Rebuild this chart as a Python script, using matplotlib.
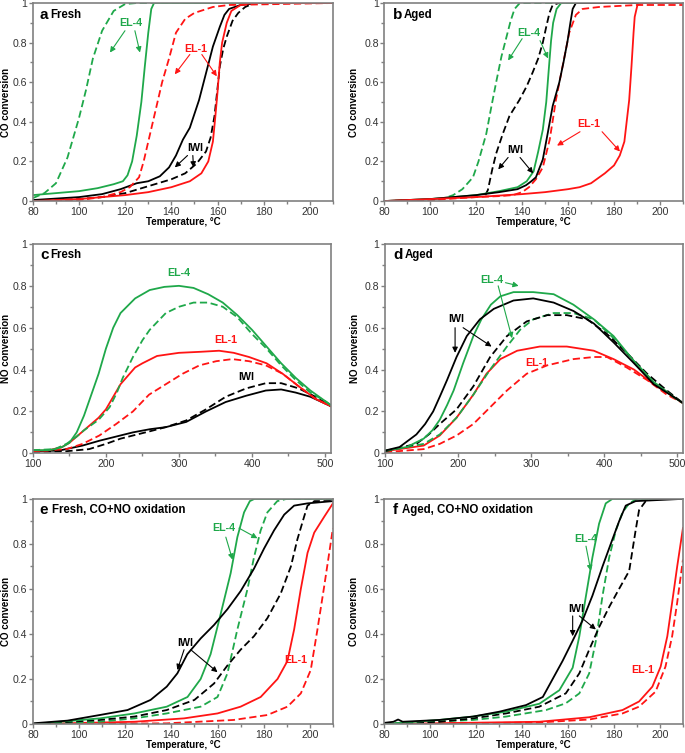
import matplotlib
matplotlib.use('Agg')
import matplotlib.pyplot as plt
from matplotlib.ticker import MultipleLocator
import numpy as np

plt.rcParams['font.family'] = ['Liberation Sans', 'DejaVu Sans']

# ---- panel a: CO oxidation, fresh ----
a_el4_sol = [(80,0.03),(90,0.04),(100,0.05),(108,0.065),(115,0.085),(119,0.1),(121,0.13),(123,0.2),(125,0.33),(127,0.5),(128.5,0.68),(130,0.85),(131.3,0.97),(132.5,1.0),(210,1.0)]
a_el4_das = [(80,0.015),(85,0.04),(90,0.09),(95,0.22),(100,0.42),(103,0.56),(106,0.72),(110,0.86),(115,0.96),(120,0.995),(125,1.0),(210,1.0)]
a_el1_sol = [(80,0.0),(100,0.01),(120,0.03),(130,0.045),(140,0.07),(148,0.1),(153,0.14),(156,0.2),(158,0.3),(159,0.42),(160,0.55),(161,0.7),(162,0.8),(164,0.9),(166,0.96),(170,0.99),(175,1.0),(210,1.0)]
a_el1_das = [(80,0.0),(100,0.005),(110,0.02),(118,0.045),(122,0.07),(126,0.12),(128,0.2),(130,0.3),(133,0.45),(136,0.6),(139,0.72),(142,0.85),(146,0.92),(150,0.95),(158,0.98),(165,0.99),(210,1.0)]
a_iwi_sol = [(80,0.005),(100,0.02),(110,0.035),(118,0.06),(125,0.09),(130,0.1),(135,0.125),(139,0.17),(142,0.23),(145,0.31),(148,0.37),(150,0.44),(152,0.51),(154,0.6),(156,0.69),(158,0.78),(161,0.88),(163,0.94),(165,0.97),(170,0.99),(178,1.0),(210,1.0)]
a_iwi_das = [(80,0.0),(100,0.01),(110,0.02),(120,0.04),(130,0.075),(140,0.11),(146,0.14),(151,0.19),(155,0.25),(157,0.32),(158.7,0.43),(160,0.57),(161,0.68),(162.5,0.77),(164,0.83),(166.5,0.91),(169,0.95),(172,0.98),(176,1.0),(210,1.0)]

# ---- panel b: CO oxidation, aged ----
b_el4_sol = [(80,0.0),(100,0.01),(120,0.03),(130,0.05),(138,0.07),(142,0.1),(145,0.15),(147,0.25),(149,0.36),(150.5,0.5),(151.5,0.65),(152.6,0.81),(153.5,0.9),(155,0.97),(157,1.0),(210,1.0)]
b_el4_das = [(80,0.0),(100,0.005),(105,0.01),(110,0.03),(114,0.06),(118.6,0.12),(121,0.2),(124.4,0.34),(126.5,0.47),(128.7,0.6),(131,0.73),(133,0.82),(135,0.91),(136.7,0.97),(139,1.0),(210,1.0)]
b_el1_sol = [(80,0.0),(100,0.01),(120,0.02),(140,0.035),(150,0.045),(160,0.06),(165,0.07),(170,0.09),(176,0.14),(180,0.18),(182.5,0.23),(184.5,0.3),(185.5,0.4),(186.6,0.51),(187.6,0.68),(188.5,0.85),(189,0.93),(190.2,0.99),(192,1.0),(210,1.0)]
b_el1_das = [(80,0.0),(100,0.005),(120,0.02),(130,0.025),(136,0.03),(140,0.045),(143,0.07),(146,0.11),(149,0.17),(150.5,0.24),(152,0.31),(153.5,0.42),(154.7,0.51),(157.6,0.68),(160.5,0.85),(163.4,0.94),(166.3,0.97),(173.5,0.98),(190,0.99),(210,0.99)]
b_iwi_sol = [(80,0.0),(100,0.01),(120,0.03),(130,0.045),(138,0.06),(141.7,0.08),(144,0.1),(146,0.12),(149,0.21),(151.1,0.34),(153.3,0.48),(156.2,0.6),(158,0.7),(159.8,0.81),(161,0.9),(162,0.97),(163.4,1.0),(210,1.0)]
b_iwi_das = [(124,0.03),(125.1,0.056),(127,0.16),(128.7,0.24),(131.6,0.34),(134.5,0.43),(138.8,0.51),(142,0.58),(144.6,0.65),(147,0.72),(149,0.8),(150.5,0.88),(151.9,0.95),(153.3,0.99),(156,1.0),(210,1.0)]

# ---- panel c: NO oxidation, fresh ----
c_el4_sol = [(100,0.015),(120,0.015),(130,0.02),(140,0.03),(150,0.05),(160,0.1),(170,0.18),(180,0.28),(190,0.38),(200,0.5),(210,0.6),(220,0.67),(240,0.74),(260,0.78),(280,0.795),(300,0.8),(320,0.79),(340,0.76),(360,0.72),(380,0.66),(400,0.59),(420,0.51),(440,0.43),(460,0.36),(480,0.3),(500,0.25),(508,0.23)]
c_el4_das = [(100,0.015),(130,0.02),(146,0.045),(160,0.08),(170,0.11),(190,0.16),(205,0.22),(215,0.29),(223,0.36),(237,0.46),(250,0.54),(260,0.59),(282,0.67),(300,0.7),(320,0.72),(340,0.72),(360,0.7),(380,0.65),(400,0.57),(420,0.5),(440,0.42),(460,0.35),(480,0.29),(500,0.25),(508,0.23)]
c_el1_sol = [(100,0.013),(120,0.013),(140,0.03),(150,0.05),(160,0.08),(170,0.11),(180,0.14),(190,0.17),(200,0.21),(210,0.27),(220,0.33),(230,0.37),(240,0.41),(250,0.43),(270,0.465),(300,0.48),(330,0.485),(355,0.49),(375,0.48),(396,0.46),(420,0.43),(442,0.38),(464,0.32),(487,0.26),(508,0.225)]
c_el1_das = [(100,0.01),(146,0.02),(168,0.045),(191,0.085),(214,0.14),(237,0.2),(259,0.28),(282,0.33),(305,0.38),(328,0.42),(351,0.44),(373,0.45),(396,0.44),(419,0.42),(442,0.38),(464,0.32),(487,0.26),(508,0.225)]
c_iwi_sol = [(100,0.01),(136,0.013),(168,0.037),(191,0.06),(214,0.08),(237,0.1),(260,0.115),(282,0.125),(310,0.15),(337,0.2),(364,0.245),(392,0.275),(419,0.3),(440,0.305),(460,0.29),(480,0.27),(508,0.225)]
c_iwi_das = [(100,0.006),(146,0.01),(177,0.02),(200,0.045),(220,0.07),(237,0.085),(260,0.105),(282,0.125),(310,0.157),(337,0.21),(364,0.27),(392,0.31),(419,0.335),(440,0.335),(464,0.31),(487,0.27),(508,0.225)]

# ---- panel d: NO oxidation, aged ----
d_el4_sol = [(100,0.013),(130,0.03),(153,0.07),(165,0.11),(175,0.16),(185,0.23),(194,0.3),(207,0.43),(221,0.56),(232,0.64),(245,0.71),(258,0.75),(276,0.77),(303,0.77),(331,0.76),(358,0.71),(386,0.64),(413,0.56),(441,0.44),(468,0.34),(495,0.27),(508,0.24)]
d_el4_das = [(100,0.01),(153,0.045),(175,0.09),(198,0.17),(221,0.28),(244,0.4),(267,0.51),(285,0.59),(303,0.64),(331,0.67),(358,0.67),(386,0.64),(413,0.55),(441,0.44),(468,0.34),(495,0.27),(508,0.24)]
d_el1_sol = [(100,0.01),(153,0.037),(175,0.085),(198,0.17),(221,0.28),(239,0.38),(258,0.45),(281,0.49),(312,0.51),(349,0.51),(386,0.49),(413,0.45),(441,0.4),(468,0.33),(495,0.27),(508,0.24)]
d_el1_das = [(100,0.005),(153,0.02),(175,0.045),(198,0.085),(221,0.14),(244,0.22),(267,0.3),(294,0.38),(322,0.42),(358,0.45),(386,0.46),(404,0.46),(431,0.41),(459,0.35),(486,0.28),(508,0.24)]
d_iwi_sol = [(100,0.013),(120,0.03),(143,0.09),(155,0.14),(166,0.2),(175,0.27),(185,0.35),(198,0.46),(212,0.56),(230,0.64),(249,0.69),(276,0.73),(303,0.74),(331,0.72),(358,0.68),(386,0.62),(413,0.53),(441,0.43),(468,0.33),(495,0.27),(508,0.24)]
d_iwi_das = [(100,0.01),(143,0.045),(160,0.09),(175,0.14),(198,0.21),(221,0.32),(244,0.46),(267,0.56),(294,0.63),(322,0.66),(349,0.66),(377,0.64),(404,0.57),(431,0.48),(459,0.38),(486,0.3),(508,0.24)]

# ---- panel e: CO+NO oxidation, fresh ----
e_el4_sol = [(80,0.0),(109,0.025),(124,0.047),(138,0.077),(147,0.12),(152.7,0.2),(157,0.31),(161.4,0.49),(165.7,0.67),(168.6,0.83),(171.5,0.94),(174,0.99),(176,1.0),(210,1.0)]
e_el4_das = [(80,0.0),(109,0.01),(124,0.025),(138,0.047),(152.7,0.077),(160,0.12),(164.3,0.225),(168.6,0.42),(173,0.6),(175.8,0.74),(178.7,0.86),(181.6,0.94),(185.9,0.99),(190,1.0),(210,1.0)]
e_el1_sol = [(80,0.0),(124,0.01),(145.5,0.025),(160,0.047),(170,0.077),(178.7,0.12),(186,0.2),(190.3,0.28),(193.2,0.42),(196.1,0.6),(199,0.76),(201.9,0.85),(206.2,0.92),(210,0.98)]
e_el1_das = [(80,0.0),(138,0.003),(167,0.018),(181.6,0.04),(190.3,0.077),(196.1,0.136),(200.4,0.24),(203.3,0.42),(206.2,0.61),(208.4,0.76),(210,0.87)]
e_iwi_sol = [(80,0.003),(95,0.015),(109,0.04),(121,0.062),(131,0.107),(138,0.166),(142.6,0.225),(146.9,0.31),(152.7,0.38),(158.5,0.44),(164.3,0.51),(170,0.59),(175.8,0.69),(180.2,0.78),(184.5,0.86),(188.9,0.93),(193.2,0.97),(199,0.98),(210,0.99)]
e_iwi_das = [(80,0.0),(109,0.018),(124,0.033),(138,0.062),(150,0.107),(158.5,0.18),(164.3,0.26),(170,0.33),(175.8,0.39),(181.6,0.47),(187.4,0.58),(191.8,0.7),(194.6,0.82),(197.5,0.92),(199,0.97),(202,0.99),(210,0.99)]

# ---- panel f: CO+NO oxidation, aged ----
f_el4_sol = [(80,0.0),(104,0.018),(118.6,0.033),(133,0.055),(147.5,0.09),(156.2,0.15),(162,0.25),(164.9,0.39),(167.8,0.57),(170.6,0.74),(173.5,0.89),(176.4,0.98),(179.3,1.0),(210,1.0)]
f_el4_das = [(80,0.0),(118.6,0.018),(133,0.033),(150.4,0.062),(159,0.092),(164.9,0.136),(169.2,0.225),(172.1,0.37),(175,0.57),(177.9,0.74),(180.8,0.86),(183.7,0.94),(186.6,0.98),(190,1.0),(210,1.0)]
f_el1_sol = [(80,0.0),(147.5,0.01),(169.2,0.03),(183.7,0.062),(190.9,0.1),(196.7,0.166),(200.3,0.255),(203.2,0.39),(205.3,0.54),(207.5,0.7),(210,0.87)]
f_el1_das = [(80,0.0),(147.5,0.007),(169.2,0.02),(183.7,0.047),(190.9,0.077),(198.1,0.144),(202.4,0.255),(205.3,0.39),(207.5,0.54),(210,0.73)]
f_iwi_sol = [(80,0.005),(84,0.01),(86,0.02),(88,0.01),(104,0.018),(118.6,0.033),(130.2,0.055),(141.7,0.084),(149,0.12),(153.3,0.2),(157.6,0.28),(162,0.37),(166.3,0.46),(170.6,0.57),(175,0.7),(179.3,0.82),(182.2,0.9),(185.1,0.97),(189.4,0.99),(210,1.0)]
f_iwi_das = [(80,0.0),(104,0.01),(118.6,0.025),(133,0.047),(147.5,0.077),(159,0.136),(164.9,0.225),(169.2,0.33),(173.5,0.43),(177.9,0.52),(182.2,0.6),(186.6,0.68),(189.4,0.86),(190.9,0.95),(193.8,0.99),(198,1.0),(210,1.0)]

GREEN = '#1fa84a'
RED = '#ff1414'
BLACK = '#000000'
GRAY = '#808080'

fig = plt.figure(figsize=(6.85, 7.53), dpi=100)

def setup(ax, xlim, xmaj, xmin, ylab, xlab, ylx):
    ax.set_xlim(*xlim)
    ax.set_ylim(0, 1)
    ax.xaxis.set_major_locator(MultipleLocator(xmaj))
    ax.xaxis.set_minor_locator(MultipleLocator(xmin))
    ax.yaxis.set_major_locator(MultipleLocator(0.2))
    ax.yaxis.set_minor_locator(MultipleLocator(0.1))
    ax.yaxis.set_major_formatter(plt.FuncFormatter(lambda v, p: '%g' % round(v, 1)))
    for s in ax.spines.values():
        s.set_color(GRAY)
        s.set_linewidth(1.2)
    ax.tick_params(which='major', direction='out', length=3, width=1, color=GRAY,
                   labelsize=7.6, labelcolor='#333333', pad=1)
    ax.tick_params(which='minor', direction='out', length=2, width=1, color=GRAY)
    ax.set_ylabel(ylab, fontsize=7, fontweight='bold')
    ax.yaxis.set_label_coords(ylx, 0.5)
    if xlab:
        ax.set_xlabel(xlab, fontsize=7, fontweight='bold', labelpad=0.5)

def draw(ax, curves):
    for pts, col, ls in curves:
        t, v = zip(*pts)
        if ls == '--':
            ax.plot(t, v, color=col, lw=1.3, ls=(0, (4, 2)))
        else:
            ax.plot(t, v, color=col, lw=1.3)

def tag(ax, letter, text, x, y, x2):
    ax.text(x, y, letter, transform=ax.transAxes, fontsize=11, fontweight='bold', va='center')
    ax.text(x2, y, text, transform=ax.transAxes, fontsize=8.3, fontweight='bold', va='center')

def lab(ax, txt, col, pos, arrows):
    ax.text(pos[0], pos[1], txt, color=col, fontsize=7.7, fontweight='bold', ha='center', va='center')
    for (x0, y0, x1, y1) in arrows:
        ax.annotate('', xy=(x1, y1), xytext=(x0, y0),
                    arrowprops=dict(arrowstyle='-|>', color=col, lw=0.8, mutation_scale=8,
                                    shrinkA=0, shrinkB=0))

tlab = 'Temperature, °C'
axa = fig.add_axes([0.048, 0.733, 0.438, 0.263])
axb = fig.add_axes([0.561, 0.733, 0.436, 0.263])
axc = fig.add_axes([0.048, 0.398, 0.435, 0.278])
axd = fig.add_axes([0.562, 0.398, 0.435, 0.278])
axe = fig.add_axes([0.048, 0.0385, 0.438, 0.299])
axf = fig.add_axes([0.561, 0.0385, 0.436, 0.299])

setup(axa, (80, 210), 20, 10, 'CO conversion', tlab, -0.073)
setup(axb, (80, 210), 20, 10, 'CO conversion', tlab, -0.085)
setup(axc, (100, 508), 100, 50, 'NO conversion', None, -0.075)
setup(axd, (100, 508), 100, 50, 'NO conversion', None, -0.085)
setup(axe, (80, 210), 20, 10, 'CO conversion', tlab, -0.073)
setup(axf, (80, 210), 20, 10, 'CO conversion', tlab, -0.085)

draw(axa, [(a_el4_das, GREEN, '--'), (a_el4_sol, GREEN, '-'), (a_iwi_sol, BLACK, '-'),
           (a_iwi_das, BLACK, '--'), (a_el1_das, RED, '--'), (a_el1_sol, RED, '-')])
draw(axb, [(b_el4_das, GREEN, '--'), (b_iwi_das, BLACK, '--'), (b_el4_sol, GREEN, '-'),
           (b_el1_das, RED, '--'), (b_iwi_sol, BLACK, '-'), (b_el1_sol, RED, '-')])
draw(axc, [(c_iwi_sol, BLACK, '-'), (c_iwi_das, BLACK, '--'), (c_el1_das, RED, '--'),
           (c_el1_sol, RED, '-'), (c_el4_das, GREEN, '--'), (c_el4_sol, GREEN, '-')])
draw(axd, [(d_el1_das, RED, '--'), (d_el1_sol, RED, '-'), (d_el4_das, GREEN, '--'),
           (d_iwi_das, BLACK, '--'), (d_el4_sol, GREEN, '-'), (d_iwi_sol, BLACK, '-')])
draw(axe, [(e_el1_das, RED, '--'), (e_el1_sol, RED, '-'), (e_el4_das, GREEN, '--'),
           (e_iwi_das, BLACK, '--'), (e_el4_sol, GREEN, '-'), (e_iwi_sol, BLACK, '-')])
draw(axf, [(f_el1_das, RED, '--'), (f_el1_sol, RED, '-'), (f_el4_das, GREEN, '--'),
           (f_iwi_das, BLACK, '--'), (f_el4_sol, GREEN, '-'), (f_iwi_sol, BLACK, '-')])

tag(axa, 'a', 'Fresh', 0.022, 0.94, 0.057)
tag(axb, 'b', 'Aged', 0.028, 0.94, 0.066)
tag(axc, 'c', 'Fresh', 0.024, 0.947, 0.058)
tag(axd, 'd', 'Aged', 0.028, 0.947, 0.066)
tag(axe, 'e', 'Fresh, CO+NO oxidation', 0.023, 0.951, 0.063)
tag(axf, 'f', 'Aged, CO+NO oxidation', 0.027, 0.951, 0.06)

lab(axa, 'EL-4', GREEN, (122.5, 0.9), [(119.9, 0.86, 113.4, 0.75), (124.2, 0.86, 126.4, 0.75)])
lab(axa, 'EL-1', RED, (150.6, 0.77), [(148, 0.74, 141.5, 0.64), (153.2, 0.74, 159.7, 0.63)])
lab(axa, 'IWI', BLACK, (150.2, 0.27), [(147, 0.23, 141.5, 0.17), (149.3, 0.23, 149.6, 0.17)])

lab(axb, 'EL-4', GREEN, (143, 0.85), [(140, 0.82, 133.9, 0.71), (147.8, 0.81, 151.3, 0.72)])
lab(axb, 'EL-1', RED, (169.1, 0.39), [(165.2, 0.35, 155.2, 0.28), (174.8, 0.35, 182.6, 0.25)])
lab(axb, 'IWI', BLACK, (137, 0.26), [(133.9, 0.22, 129.6, 0.16), (139.1, 0.22, 144.8, 0.14)])

lab(axc, 'EL-4', GREEN, (300, 0.86), [])
lab(axc, 'EL-1', RED, (364, 0.54), [])
lab(axc, 'IWI', BLACK, (392, 0.365), [])

lab(axd, 'EL-4', GREEN, (246, 0.83), [(265, 0.815, 283, 0.8), (255, 0.8, 274, 0.55)])
lab(axd, 'IWI', BLACK, (198, 0.64), [(196, 0.6, 196, 0.48), (207, 0.6, 246, 0.51)])
lab(axd, 'EL-1', RED, (308, 0.43), [])

lab(axe, 'EL-4', GREEN, (162.8, 0.87), [(163.6, 0.83, 166.5, 0.73), (169.3, 0.87, 177.3, 0.825)])
lab(axe, 'IWI', BLACK, (146.2, 0.36), [(145.5, 0.33, 142.6, 0.24), (148.4, 0.33, 160, 0.23)])
lab(axe, 'EL-1', RED, (193.9, 0.284), [])

lab(axf, 'EL-4', GREEN, (167.8, 0.82), [(167.8, 0.79, 169.9, 0.68)])
lab(axf, 'IWI', BLACK, (163.4, 0.51), [(162, 0.48, 162, 0.39), (164.9, 0.48, 172.1, 0.42)])
lab(axf, 'EL-1', RED, (192.3, 0.24), [])

fig.savefig('out.png', dpi=100)
